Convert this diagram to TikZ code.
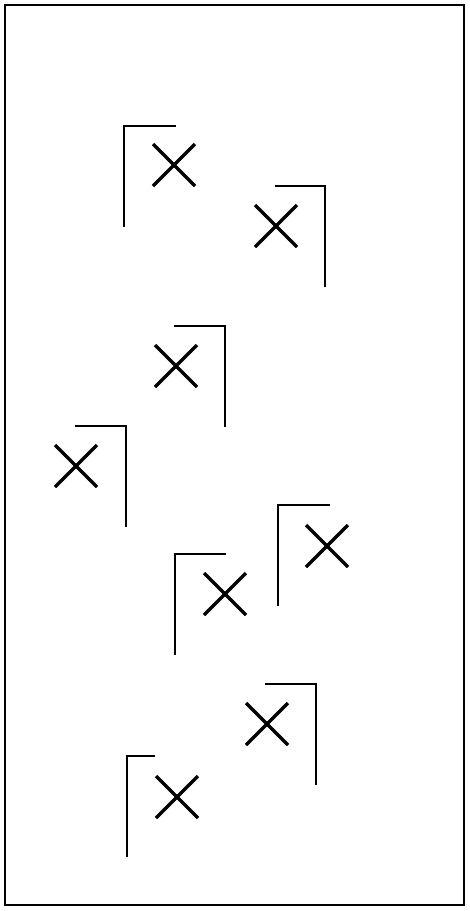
\documentclass[tikz,border=0pt]{standalone}
\usepackage{tikz}

\begin{document}
\begin{tikzpicture}[x=1pt,y=-1pt,
    frame/.style={line width=1.6pt},
    corner/.style={line width=1.6pt},
    cross/.style={line width=3.4pt}]
  \useasboundingbox (0,0) rectangle (470,911);
  \draw[frame] (5,5) rectangle (464,905);
  % vx, top y, end of top bar, centre of cross
  \foreach \vx/\ty/\hx/\cx/\cy in {124/126/176/174/165, 325/186/275/276/226,
      225/326/174/176/366, 126/426/75/76/466, 278/505/330/327/546,
      175/554/226/225/594, 316/684/265/267/724, 127/756/155/177/797}
  {
    \draw[corner] (\hx,\ty)--(\vx,\ty)--(\vx,\ty+101);
    \draw[cross] (\cx-21,\cy-21)--(\cx+21,\cy+21);
    \draw[cross] (\cx-21,\cy+21)--(\cx+21,\cy-21);
  }
\end{tikzpicture}
\end{document}
